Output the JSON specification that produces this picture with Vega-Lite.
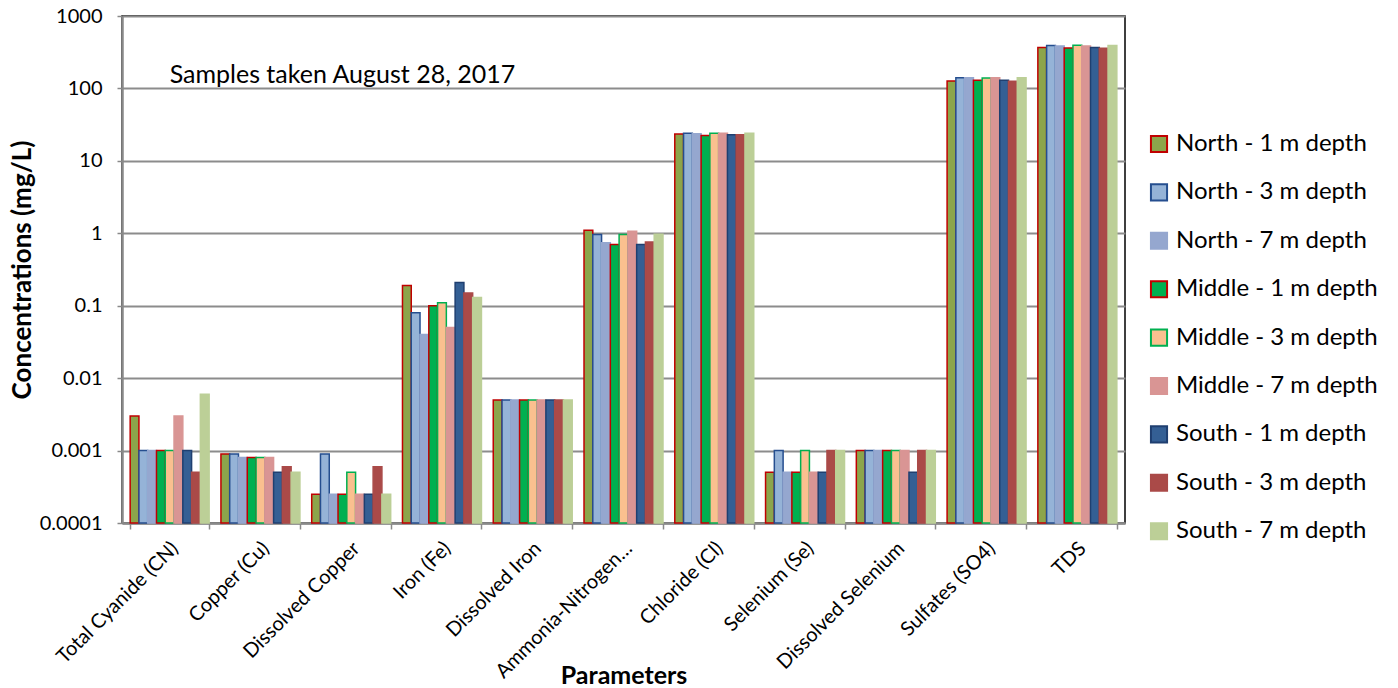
{
  "$schema": "https://vega.github.io/schema/vega-lite/v6.json",
  "width": 1003,
  "height": 507,
  "autosize": {"type": "none"},
  "padding": {"left": 122, "top": 16, "right": 273, "bottom": 165},
  "background": "white",
  "config": {
    "font": "Lato",
    "view": {"stroke": "#000000", "strokeWidth": 1.5},
    "axis": {
      "domainColor": "#898989", "domainWidth": 2.5,
      "tickColor": "#898989", "tickWidth": 1.5,
      "gridColor": "#8c8c8c", "gridWidth": 2,
      "labelColor": "#000000", "titleColor": "#000000",
      "labelFont": "Lato", "titleFont": "Lato"
    },
    "legend": {
      "orient": "none", "legendX": 1025, "legendY": 116,
      "labelFontSize": 24, "labelColor": "#000000", "labelFont": "Lato", "labelLimit": 400,
      "symbolType": "square", "symbolSize": 260, "symbolStrokeWidth": 2,
      "rowPadding": 22.4, "labelOffset": 5, "title": null
    }
  },
  "data": {"values": [
    {"param": "Total Cyanide (CN)", "series": "North - 1 m depth", "value": 0.003},
    {"param": "Total Cyanide (CN)", "series": "North - 3 m depth", "value": 0.001},
    {"param": "Total Cyanide (CN)", "series": "North - 7 m depth", "value": 0.001},
    {"param": "Total Cyanide (CN)", "series": "Middle - 1 m depth", "value": 0.001},
    {"param": "Total Cyanide (CN)", "series": "Middle - 3 m depth", "value": 0.001},
    {"param": "Total Cyanide (CN)", "series": "Middle - 7 m depth", "value": 0.003},
    {"param": "Total Cyanide (CN)", "series": "South - 1 m depth", "value": 0.001},
    {"param": "Total Cyanide (CN)", "series": "South - 3 m depth", "value": 0.0005},
    {"param": "Total Cyanide (CN)", "series": "South - 7 m depth", "value": 0.006},
    {"param": "Copper (Cu)", "series": "North - 1 m depth", "value": 0.0009},
    {"param": "Copper (Cu)", "series": "North - 3 m depth", "value": 0.0009},
    {"param": "Copper (Cu)", "series": "North - 7 m depth", "value": 0.0008},
    {"param": "Copper (Cu)", "series": "Middle - 1 m depth", "value": 0.0008},
    {"param": "Copper (Cu)", "series": "Middle - 3 m depth", "value": 0.0008},
    {"param": "Copper (Cu)", "series": "Middle - 7 m depth", "value": 0.0008},
    {"param": "Copper (Cu)", "series": "South - 1 m depth", "value": 0.0005},
    {"param": "Copper (Cu)", "series": "South - 3 m depth", "value": 0.0006},
    {"param": "Copper (Cu)", "series": "South - 7 m depth", "value": 0.0005},
    {"param": "Dissolved Copper", "series": "North - 1 m depth", "value": 0.00025},
    {"param": "Dissolved Copper", "series": "North - 3 m depth", "value": 0.0009},
    {"param": "Dissolved Copper", "series": "North - 7 m depth", "value": 0.00025},
    {"param": "Dissolved Copper", "series": "Middle - 1 m depth", "value": 0.00025},
    {"param": "Dissolved Copper", "series": "Middle - 3 m depth", "value": 0.0005},
    {"param": "Dissolved Copper", "series": "Middle - 7 m depth", "value": 0.00025},
    {"param": "Dissolved Copper", "series": "South - 1 m depth", "value": 0.00025},
    {"param": "Dissolved Copper", "series": "South - 3 m depth", "value": 0.0006},
    {"param": "Dissolved Copper", "series": "South - 7 m depth", "value": 0.00025},
    {"param": "Iron (Fe)", "series": "North - 1 m depth", "value": 0.19},
    {"param": "Iron (Fe)", "series": "North - 3 m depth", "value": 0.08},
    {"param": "Iron (Fe)", "series": "North - 7 m depth", "value": 0.04},
    {"param": "Iron (Fe)", "series": "Middle - 1 m depth", "value": 0.1},
    {"param": "Iron (Fe)", "series": "Middle - 3 m depth", "value": 0.11},
    {"param": "Iron (Fe)", "series": "Middle - 7 m depth", "value": 0.05},
    {"param": "Iron (Fe)", "series": "South - 1 m depth", "value": 0.21},
    {"param": "Iron (Fe)", "series": "South - 3 m depth", "value": 0.15},
    {"param": "Iron (Fe)", "series": "South - 7 m depth", "value": 0.13},
    {"param": "Dissolved Iron", "series": "North - 1 m depth", "value": 0.005},
    {"param": "Dissolved Iron", "series": "North - 3 m depth", "value": 0.005},
    {"param": "Dissolved Iron", "series": "North - 7 m depth", "value": 0.005},
    {"param": "Dissolved Iron", "series": "Middle - 1 m depth", "value": 0.005},
    {"param": "Dissolved Iron", "series": "Middle - 3 m depth", "value": 0.005},
    {"param": "Dissolved Iron", "series": "Middle - 7 m depth", "value": 0.005},
    {"param": "Dissolved Iron", "series": "South - 1 m depth", "value": 0.005},
    {"param": "Dissolved Iron", "series": "South - 3 m depth", "value": 0.005},
    {"param": "Dissolved Iron", "series": "South - 7 m depth", "value": 0.005},
    {"param": "Ammonia-Nitrogen…", "series": "North - 1 m depth", "value": 1.1},
    {"param": "Ammonia-Nitrogen…", "series": "North - 3 m depth", "value": 0.96},
    {"param": "Ammonia-Nitrogen…", "series": "North - 7 m depth", "value": 0.74},
    {"param": "Ammonia-Nitrogen…", "series": "Middle - 1 m depth", "value": 0.7},
    {"param": "Ammonia-Nitrogen…", "series": "Middle - 3 m depth", "value": 0.96},
    {"param": "Ammonia-Nitrogen…", "series": "Middle - 7 m depth", "value": 1.07},
    {"param": "Ammonia-Nitrogen…", "series": "South - 1 m depth", "value": 0.7},
    {"param": "Ammonia-Nitrogen…", "series": "South - 3 m depth", "value": 0.76},
    {"param": "Ammonia-Nitrogen…", "series": "South - 7 m depth", "value": 0.97},
    {"param": "Chloride (Cl)", "series": "North - 1 m depth", "value": 23.4},
    {"param": "Chloride (Cl)", "series": "North - 3 m depth", "value": 24},
    {"param": "Chloride (Cl)", "series": "North - 7 m depth", "value": 23.6},
    {"param": "Chloride (Cl)", "series": "Middle - 1 m depth", "value": 22.4},
    {"param": "Chloride (Cl)", "series": "Middle - 3 m depth", "value": 24},
    {"param": "Chloride (Cl)", "series": "Middle - 7 m depth", "value": 24},
    {"param": "Chloride (Cl)", "series": "South - 1 m depth", "value": 23},
    {"param": "Chloride (Cl)", "series": "South - 3 m depth", "value": 23},
    {"param": "Chloride (Cl)", "series": "South - 7 m depth", "value": 24},
    {"param": "Selenium (Se)", "series": "North - 1 m depth", "value": 0.0005},
    {"param": "Selenium (Se)", "series": "North - 3 m depth", "value": 0.001},
    {"param": "Selenium (Se)", "series": "North - 7 m depth", "value": 0.0005},
    {"param": "Selenium (Se)", "series": "Middle - 1 m depth", "value": 0.0005},
    {"param": "Selenium (Se)", "series": "Middle - 3 m depth", "value": 0.001},
    {"param": "Selenium (Se)", "series": "Middle - 7 m depth", "value": 0.0005},
    {"param": "Selenium (Se)", "series": "South - 1 m depth", "value": 0.0005},
    {"param": "Selenium (Se)", "series": "South - 3 m depth", "value": 0.001},
    {"param": "Selenium (Se)", "series": "South - 7 m depth", "value": 0.001},
    {"param": "Dissolved Selenium", "series": "North - 1 m depth", "value": 0.001},
    {"param": "Dissolved Selenium", "series": "North - 3 m depth", "value": 0.001},
    {"param": "Dissolved Selenium", "series": "North - 7 m depth", "value": 0.001},
    {"param": "Dissolved Selenium", "series": "Middle - 1 m depth", "value": 0.001},
    {"param": "Dissolved Selenium", "series": "Middle - 3 m depth", "value": 0.001},
    {"param": "Dissolved Selenium", "series": "Middle - 7 m depth", "value": 0.001},
    {"param": "Dissolved Selenium", "series": "South - 1 m depth", "value": 0.0005},
    {"param": "Dissolved Selenium", "series": "South - 3 m depth", "value": 0.001},
    {"param": "Dissolved Selenium", "series": "South - 7 m depth", "value": 0.001},
    {"param": "Sulfates (SO4)", "series": "North - 1 m depth", "value": 127},
    {"param": "Sulfates (SO4)", "series": "North - 3 m depth", "value": 140},
    {"param": "Sulfates (SO4)", "series": "North - 7 m depth", "value": 140},
    {"param": "Sulfates (SO4)", "series": "Middle - 1 m depth", "value": 130},
    {"param": "Sulfates (SO4)", "series": "Middle - 3 m depth", "value": 139},
    {"param": "Sulfates (SO4)", "series": "Middle - 7 m depth", "value": 140},
    {"param": "Sulfates (SO4)", "series": "South - 1 m depth", "value": 130},
    {"param": "Sulfates (SO4)", "series": "South - 3 m depth", "value": 126},
    {"param": "Sulfates (SO4)", "series": "South - 7 m depth", "value": 140},
    {"param": "TDS", "series": "North - 1 m depth", "value": 367},
    {"param": "TDS", "series": "North - 3 m depth", "value": 391},
    {"param": "TDS", "series": "North - 7 m depth", "value": 385},
    {"param": "TDS", "series": "Middle - 1 m depth", "value": 363},
    {"param": "TDS", "series": "Middle - 3 m depth", "value": 396},
    {"param": "TDS", "series": "Middle - 7 m depth", "value": 385},
    {"param": "TDS", "series": "South - 1 m depth", "value": 367},
    {"param": "TDS", "series": "South - 3 m depth", "value": 360},
    {"param": "TDS", "series": "South - 7 m depth", "value": 391}
  ]},
  "layer": [
    {
      "mark": {"type": "bar", "strokeWidth": 1.5},
      "encoding": {
        "x": {
          "field": "param", "type": "nominal",
          "sort": ["Total Cyanide (CN)", "Copper (Cu)", "Dissolved Copper", "Iron (Fe)", "Dissolved Iron", "Ammonia-Nitrogen…", "Chloride (Cl)", "Selenium (Se)", "Dissolved Selenium", "Sulfates (SO4)", "TDS"],
          "scale": {"paddingInner": 0.13, "paddingOuter": 0.09},
          "axis": {
            "title": "Parameters", "titleFontSize": 25, "titleFontWeight": "bold",
            "titleY": 160, "titleBaseline": "alphabetic",
            "labelAngle": -45, "labelAlign": "right", "labelBaseline": "middle",
            "labelFontSize": 20, "labelPadding": 16, "labelOffset": 5, "labelLimit": 300, "tickSize": 6, "tickBand": "extent",
            "grid": false
          }
        },
        "xOffset": {
          "field": "series", "type": "nominal",
          "sort": ["North - 1 m depth", "North - 3 m depth", "North - 7 m depth", "Middle - 1 m depth", "Middle - 3 m depth", "Middle - 7 m depth", "South - 1 m depth", "South - 3 m depth", "South - 7 m depth"],
          "scale": {"paddingInner": 0, "paddingOuter": 0}
        },
        "y": {
          "field": "value", "type": "quantitative",
          "scale": {"type": "log", "domain": [0.0001, 1000]},
          "axis": {
            "title": "Concentrations (mg/L)", "titleFontSize": 26, "titleFontWeight": "bold", "titlePadding": 4,
            "values": [0.0001, 0.001, 0.01, 0.1, 1, 10, 100, 1000],
            "labelExpr": "format(datum.value, '~g')",
            "labelFontSize": 20, "labelPadding": 15, "tickSize": 5, "grid": true
          }
        },
        "y2": {"datum": 0.0001},
        "color": {
          "field": "series", "type": "nominal",
          "scale": {
            "domain": ["North - 1 m depth", "North - 3 m depth", "North - 7 m depth", "Middle - 1 m depth", "Middle - 3 m depth", "Middle - 7 m depth", "South - 1 m depth", "South - 3 m depth", "South - 7 m depth"],
            "range": ["#8CA54B", "#95B3D7", "#95A7CF", "#00B050", "#FAC08F", "#D99594", "#345F94", "#AA4A48", "#BCCF97"]
          },
          "legend": {"title": null}
        },
        "stroke": {
          "field": "series", "type": "nominal",
          "scale": {
            "domain": ["North - 1 m depth", "North - 3 m depth", "North - 7 m depth", "Middle - 1 m depth", "Middle - 3 m depth", "Middle - 7 m depth", "South - 1 m depth", "South - 3 m depth", "South - 7 m depth"],
            "range": ["#C00000", "#254E8F", "#95A7CF", "#C00000", "#00B050", "#D99594", "#1F3F70", "#AA4A48", "#BCCF97"]
          },
          "legend": {"title": null}
        }
      }
    },
    {
      "data": {"values": [{"param": "Total Cyanide (CN)", "value": 155, "label": "Samples taken August 28, 2017"}]},
      "mark": {"type": "text", "align": "left", "baseline": "middle", "fontSize": 25, "font": "Lato", "color": "#000000"},
      "encoding": {
        "x": {"field": "param", "type": "nominal", "sort": ["Total Cyanide (CN)", "Copper (Cu)", "Dissolved Copper", "Iron (Fe)", "Dissolved Iron", "Ammonia-Nitrogen…", "Chloride (Cl)", "Selenium (Se)", "Dissolved Selenium", "Sulfates (SO4)", "TDS"]},
        "y": {"field": "value", "type": "quantitative"},
        "text": {"field": "label"}
      }
    }
  ]
}
